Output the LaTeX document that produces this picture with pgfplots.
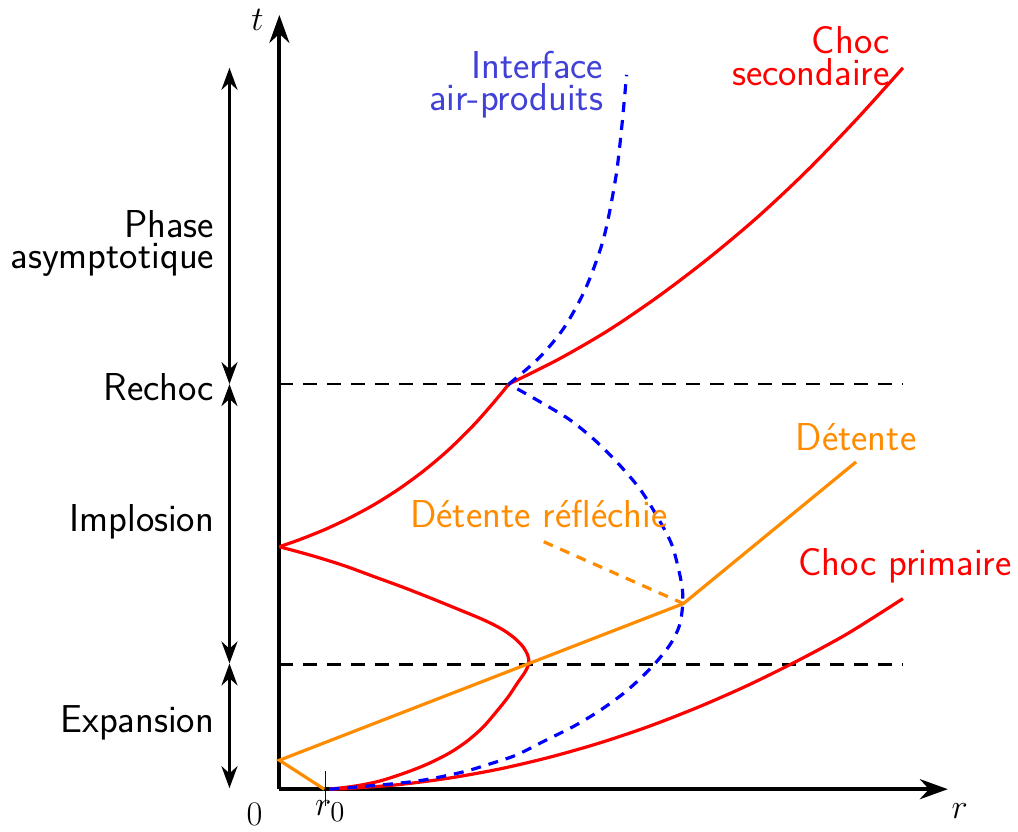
\documentclass[border=0pt]{standalone}
\usepackage{pgfplots}
\pgfplotsset{compat=1.18}
\usetikzlibrary{arrows.meta}
\definecolor{myorange}{RGB}{255,140,0}
\definecolor{txtblue}{RGB}{65,65,215}
\newcommand{\lbl}{\sffamily\fontsize{19.5}{16}\selectfont}
\newcommand{\mlbl}{\fontsize{19}{19}\selectfont}
\begin{document}
\begin{tikzpicture}
\begin{axis}[
  scale only axis, width=509pt, height=414.5pt,
  xmin=0, xmax=1018, ymin=0, ymax=829,
  axis lines=none, clip=false,
]
\addplot[draw=none] coordinates {(0,0) (1018,829)};
% axes
\addplot[black, line width=2pt, -{Stealth[length=14pt,width=10pt]}] coordinates {(280,38) (950,38)};
\addplot[black, line width=2pt, -{Stealth[length=14pt,width=10pt]}] coordinates {(280,38) (280,814)};
% left phase arrows
\addplot[black, line width=1.6pt, {Stealth[length=11pt,width=8pt]}-{Stealth[length=11pt,width=8pt]}] coordinates {(230,39) (230,164)};
\addplot[black, line width=1.6pt, {Stealth[length=11pt,width=8pt]}-{Stealth[length=11pt,width=8pt]}] coordinates {(230,164) (230,444)};
\addplot[black, line width=1.6pt, {Stealth[length=11pt,width=8pt]}-{Stealth[length=11pt,width=8pt]}] coordinates {(230,444) (230,761)};
% dashed horizontals
\addplot[black, line width=1.3pt, dash pattern=on 7pt off 5pt] coordinates {(280,163) (905,163)};
\addplot[black, line width=1.3pt, dash pattern=on 7pt off 5pt] coordinates {(280,444) (905,444)};
% r0 tick
\addplot[black!70!violet, line width=0.6pt] coordinates {(326,56) (326,21)};
% primary shock
\addplot[red, line width=1.6pt, smooth] coordinates {(330,38) (350,38.8) (400,42.6) (450,49.1) (500,58.1) (550,69.8) (600,84) (650,100.8) (700,120.3) (750,142.3) (800,167) (850,194.2) (905,229)};
% nose curve
\addplot[red, line width=1.6pt, smooth] coordinates {(330,38) (355,41) (380,46) (405,54) (428,63) (450,74) (468,86) (484,100) (497,115) (509,130) (519,145) (526,155) (530,164) (529,172) (524,181) (515,190) (502,199) (484,208) (460,218) (433,229) (405,240) (375,251) (345,262) (313,272) (280,281)};
% implosion curve
\addplot[red, line width=1.6pt, smooth] coordinates {(280,281) (300,288) (325,298) (350,309.7) (375,323.2) (400,339) (425,357.3) (450,378.5) (475,403.2) (495,425.8) (510,444)};
% secondary shock
\addplot[red, line width=1.6pt, smooth] coordinates {(510,444) (560,469) (610,498) (660,532) (710,570) (760,612) (810,659) (860,711) (905,761)};
% interface
\addplot[blue, line width=1.6pt, dash pattern=on 5pt off 4pt, smooth] coordinates {(330,38) (345,39) (367,41) (390,43) (417,46) (440,50) (467,56) (490,63) (517,72) (545,86) (575,101) (600,116) (625,134) (645,152) (660,168) (673,185) (681,202) (684,220) (684,238) (680,259) (673,284) (660,309) (642,338) (620,364) (596,388) (570,409) (540,427) (510,444)};
\addplot[blue, line width=1.6pt, dash pattern=on 5pt off 4pt, smooth] coordinates {(510,444) (540,470) (565,500) (587,540) (605,590) (617,650) (623,700) (628,754)};
% orange
\addplot[myorange, line width=1.6pt] coordinates {(325,38) (280,67) (685,224) (858,366)};
\addplot[myorange, line width=1.6pt, dash pattern=on 5pt off 4pt] coordinates {(545,286) (685,224)};
% labels
\node[font=\mlbl] at (axis cs:258,809) {$t$};
\node[font=\mlbl] at (axis cs:962,16) {$r$};
\node[font=\mlbl] at (axis cs:255,13) {$0$};
\node[font=\mlbl] at (axis cs:331,16) {$r_0$};
\node[txtblue, font=\lbl, align=right, anchor=east, inner sep=0pt] at (axis cs:605,744) {Interface\\air-produits};
\node[red, font=\lbl, align=right, anchor=east, inner sep=0pt] at (axis cs:892,773) {Choc\\secondaire};
\node[myorange, font=\lbl] at (axis cs:858,391) {Détente};
\node[myorange, font=\lbl] at (axis cs:540,314) {Détente réfléchie};
\node[red, font=\lbl] at (axis cs:907,262) {Choc primaire};
\node[font=\lbl, align=right, anchor=east, inner sep=0pt] at (axis cs:215,585) {Phase\\asymptotique};
\node[font=\lbl, anchor=east, inner sep=0pt] at (axis cs:215,441) {Rechoc};
\node[font=\lbl, anchor=east, inner sep=0pt] at (axis cs:215,306) {Implosion};
\node[font=\lbl, anchor=east, inner sep=0pt] at (axis cs:215,104) {Expansion};
\end{axis}
\end{tikzpicture}
\end{document}
